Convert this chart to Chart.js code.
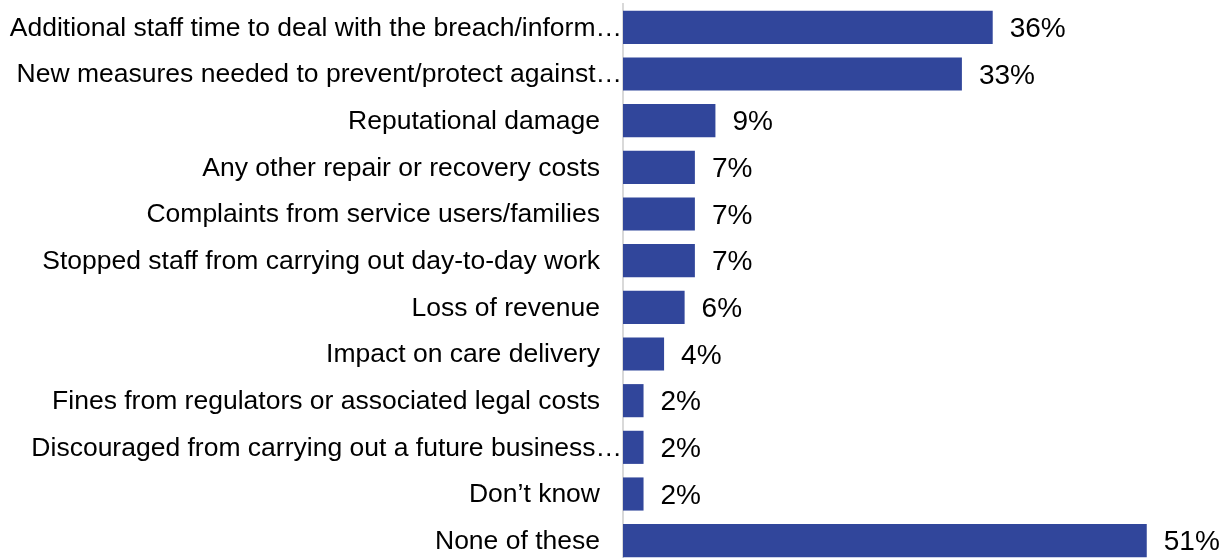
<!DOCTYPE html>
<html>
<head>
<meta charset="utf-8">
<script src="https://cdn.jsdelivr.net/npm/chart.js@4/dist/chart.umd.min.js"></script>
<style>
  html, body { margin: 0; padding: 0; background: #fff; overflow: hidden; }
  #wrap { position: relative; width: 1232px; height: 564px; }
</style>
</head>
<body>
<div id="wrap"><canvas id="impactChart"></canvas></div>
<script>
const categories = [
  "Additional staff time to deal with the breach/inform…",
  "New measures needed to prevent/protect against…",
  "Reputational damage",
  "Any other repair or recovery costs",
  "Complaints from service users/families",
  "Stopped staff from carrying out day-to-day work",
  "Loss of revenue",
  "Impact on care delivery",
  "Fines from regulators or associated legal costs",
  "Discouraged from carrying out a future business…",
  "Don\u2019t know",
  "None of these"
];
const percentages = [36, 33, 9, 7, 7, 7, 6, 4, 2, 2, 2, 51];

const FONT = "Liberation Sans, Arial, sans-serif";
const AXIS_LEFT = 623;

// category names drawn right-aligned next to the axis; truncated ones run up to the line
const categoryLabels = {
  id: "categoryLabels",
  afterDraw(chart) {
    const ctx = chart.ctx;
    const y = chart.scales.y;
    const left = chart.chartArea.left;
    ctx.save();
    ctx.font = "26.5px " + FONT;
    ctx.fillStyle = "#000";
    ctx.textAlign = "right";
    ctx.textBaseline = "middle";
    categories.forEach((label, i) => {
      const x = label.endsWith("…") ? left - 1 : left - 23;
      ctx.fillText(label, x, y.getPixelForValue(i) + 1);
    });
    ctx.restore();
  }
};

// percentage shown just past the end of each bar
const valueLabels = {
  id: "valueLabels",
  afterDatasetsDraw(chart) {
    const ctx = chart.ctx;
    const meta = chart.getDatasetMeta(0);
    ctx.save();
    ctx.font = "28px " + FONT;
    ctx.fillStyle = "#000";
    ctx.textAlign = "left";
    ctx.textBaseline = "middle";
    meta.data.forEach((bar, i) => {
      ctx.fillText(percentages[i] + "%", bar.x + 17, bar.y + 2);
    });
    ctx.restore();
  }
};

new Chart(document.getElementById("impactChart"), {
  type: "bar",
  data: {
    labels: categories,
    datasets: [{
      data: percentages,
      backgroundColor: "#31469b",
      barPercentage: 0.71,
      categoryPercentage: 1
    }]
  },
  options: {
    indexAxis: "y",
    responsive: true,
    maintainAspectRatio: false,
    animation: false,
    layout: { padding: { top: 4, right: 0, bottom: 0, left: 0 } },
    plugins: {
      legend: { display: false },
      tooltip: { enabled: false }
    },
    scales: {
      x: {
        display: false,
        min: 0,
        max: 59.3
      },
      y: {
        grid: { display: false, drawTicks: false },
        border: { display: true, color: "#d9d9d9", width: 2 },
        ticks: { display: false },
        afterFit(scale) { scale.width = AXIS_LEFT; }
      }
    }
  },
  plugins: [categoryLabels, valueLabels]
});
</script>
</body>
</html>
